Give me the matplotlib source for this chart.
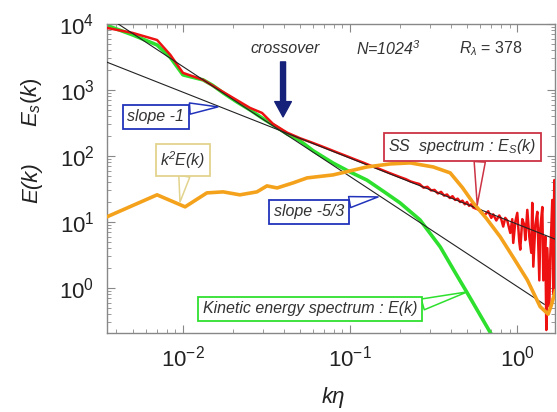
import matplotlib
matplotlib.use("Agg")
import matplotlib.pyplot as plt

plt.rcParams['font.family'] = ['Liberation Sans', 'DejaVu Sans']
plt.rcParams['mathtext.fontset'] = 'custom'
plt.rcParams['mathtext.rm'] = 'Liberation Sans'
plt.rcParams['mathtext.it'] = 'Liberation Sans:italic'
plt.rcParams['mathtext.bf'] = 'Liberation Sans:bold'

# kinetic energy spectrum E(k)
ke_k = [0.0035, 0.0050, 0.0070, 0.0084, 0.0100, 0.0132, 0.0150, 0.0174, 0.0210,
        0.0252, 0.0300, 0.0346, 0.0420, 0.0502, 0.0600, 0.0790, 0.1000, 0.1260,
        0.1600, 0.1990, 0.2620, 0.3460, 0.4200, 0.5020, 0.6900]
ke_E = [9500, 6810, 4790, 3100, 1690, 1418, 1180, 901, 658,
        497, 370, 295, 215, 169, 120, 78, 57, 43,
        28.5, 19.4, 10.7, 4.18, 1.8, 0.84, 0.21]

# SS spectrum Es(k)
ss_k = [0.0035, 0.0050, 0.0070, 0.0084, 0.0100, 0.0132, 0.0174, 0.0252, 0.0297, 0.0346,
        0.0420, 0.0502, 0.058, 0.066, 0.075, 0.085, 0.096, 0.108, 0.120, 0.132,
        0.145, 0.158, 0.172, 0.186, 0.200, 0.215, 0.230, 0.245, 0.260, 0.275,
        0.290, 0.305, 0.320, 0.335, 0.350, 0.365, 0.380, 0.395, 0.410, 0.425,
        0.440, 0.455, 0.470, 0.485, 0.500, 0.515, 0.530, 0.545, 0.600, 0.634,
        0.670, 0.699, 0.718, 0.749, 0.780, 0.802, 0.824, 0.847, 0.871, 0.908,
        0.933, 0.946, 0.973, 1.000, 1.028, 1.042, 1.071, 1.101, 1.117, 1.148,
        1.180, 1.213, 1.229, 1.247, 1.282, 1.318, 1.355, 1.374, 1.412, 1.431,
        1.471, 1.492, 1.512, 1.555, 1.576, 1.620, 1.642, 1.665, 1.689]
ss_E = [8700, 7300, 5700, 3400, 1810, 1420, 930, 533, 448, 305,
        225, 185, 162, 143, 126, 111, 98.5, 87.5, 79, 71.5,
        65.5, 60, 55, 51, 47.5, 44.5, 41, 39, 37.5, 33,
        34, 30, 30.5, 27, 28.5, 25, 26, 23, 24.5, 21.5,
        22.5, 20, 21, 18.5, 20, 17.5, 18.5, 16.5, 15, 12.5,
        14.5, 11.5, 13, 10.5, 12.5, 11, 8.5, 11.5, 10.5, 6.8,
        11, 4.8, 10, 13.7, 5, 3.8, 11, 9, 5.3, 15.2,
        6, 3.4, 19.4, 2.1, 9, 14.2, 1.3, 8, 16.8, 1.3,
        6, 0.23, 4, 0.52, 3, 21.5, 0.8, 43, 30]

# k^2 E(k)
k2_k = [0.0035, 0.0070, 0.0103, 0.0139, 0.0174, 0.0219, 0.0277, 0.0318, 0.0366,
        0.0456, 0.0553, 0.0790, 0.1260, 0.1740, 0.2290, 0.3140, 0.3970, 0.4700,
        0.5450, 0.6500, 0.7910, 0.9500, 1.1480, 1.3700, 1.5300, 1.6000, 1.6890]
k2_E = [11.9, 25.7, 16.9, 27.5, 28.5, 25.7, 28.5, 35.1, 32.7,
        39.0, 46.4, 51.5, 68.0, 75.6, 78.3, 68.0, 55.3, 33.0,
        19.4, 11.5, 5.93, 2.85, 1.32, 0.52, 0.40, 0.55, 0.9]

# reference slopes
slope1_k = [0.0035, 1.69]
slope1_E = [2637, 5.46]
slope53_k = [0.0035, 1.45]
slope53_E = [12970, 0.564]

fig = plt.figure(figsize=(5.57, 4.12), dpi=100)
ax = fig.add_axes([0.192, 0.192, 0.805, 0.750])

ax.plot(ke_k, ke_E, color='#2ee02e', lw=2.6, zorder=2)
ax.plot(ss_k, ss_E, color='#ee1111', lw=1.8, zorder=3)
ax.plot(slope1_k, slope1_E, color='#222222', lw=0.8, zorder=4)
ax.plot(slope53_k, slope53_E, color='#222222', lw=0.8, zorder=4)
ax.plot(k2_k, k2_E, color='#f4a21c', lw=2.6, zorder=5)

ax.set_xscale('log')
ax.set_yscale('log')
ax.set_xlim(0.00351, 1.689)
ax.set_ylim(0.208, 1.0e4)

for s in ax.spines.values():
    s.set_color('#888888')
    s.set_linewidth(1.0)
ax.tick_params(which='both', direction='in', top=True, right=True, colors='#888888',
               labelcolor='#222222')
ax.tick_params(which='major', length=6, labelsize=16)
ax.tick_params(which='minor', length=3)
ax.tick_params(axis='y', which='major', pad=9)
ax.tick_params(axis='x', which='major', pad=9)

fig.text(0.598, 0.034, 'kη', fontsize=16, style='italic', ha='center', va='center',
         color='#222222')
fig.text(0.057, 1 - 183 / 412, 'E(k)', fontsize=16, style='italic', rotation=90,
         ha='center', va='center', color='#222222')
fig.text(0.057, 1 - 102 / 412, r'$E_s(k)$', fontsize=16, rotation=90,
         ha='center', va='center', color='#222222')

txt = dict(fontsize=11.5, style='italic', color='#333333', ha='center', va='center')
ax.text(0.0408, 4180, 'crossover', **txt)
ax.text(0.169, 4180, r'N=1024$\mathregular{^3}$', **txt)
ax.text(0.699, 4180, r'$R_\lambda$ = 378', **{**txt, 'style': 'normal'})

navy = '#16217a'
ax.annotate('', xy=(0.0397, 390), xytext=(0.0397, 2655),
            arrowprops=dict(arrowstyle='simple,head_length=1.1,head_width=1.2,tail_width=0.36',
                            mutation_scale=10, fc=navy, ec=navy, shrinkA=0, shrinkB=0),
            zorder=6)


def callout(text, xy, xytext, color, relpos):
    ax.annotate(text, xy=xy, xytext=xytext, zorder=7, **txt,
                bbox=dict(boxstyle='square,pad=0.3', fc='white', ec=color, lw=1.3),
                arrowprops=dict(arrowstyle='wedge,tail_width=0.7,shrink_factor=0.5',
                                fc='white', ec=color, lw=1.1, relpos=relpos,
                                shrinkA=0, shrinkB=0))


callout('slope -1', (0.0162, 553), (0.00689, 390), '#2233bb', (0.85, 1.0))
callout(r'k$\mathregular{^2}$E(k)', (0.0096, 20), (0.0100, 87), '#e2d38c', (0.55, 0.0))
callout('slope -5/3', (0.147, 23.9), (0.0568, 14.2), '#2233bb', (0.9, 1.0))
callout(r'SS  spectrum : E$_S$(k)', (0.576, 18.1), (0.469, 137), '#cc3344', (0.62, 0.0))
callout('Kinetic energy spectrum : E(k)', (0.502, 0.87), (0.0576, 0.48), '#2ee02e', (1.0, 0.7))

fig.savefig('out.png', dpi=100)
